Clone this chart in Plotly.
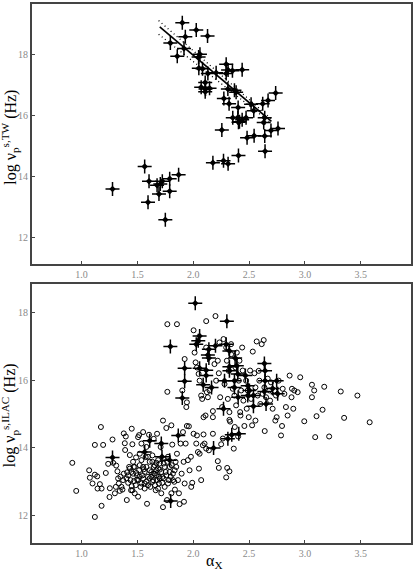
import plotly.graph_objects as go
from plotly.subplots import make_subplots

# ---------------- Top panel: crosses (alpha_x, log nu_p^{s,TW}) ----------------
top_ax = [1.277, 1.565, 1.604, 1.595, 1.676, 1.693, 1.705, 1.723, 1.789, 1.789, 1.869, 1.750,
          2.176, 2.271, 2.312, 2.405, 2.643, 1.902, 2.027, 1.929, 2.128, 1.795, 1.917, 1.857,
          2.060, 2.048, 2.050, 2.131, 2.205, 2.295, 2.312, 2.295, 2.351, 2.438, 2.107, 2.110,
          2.071, 2.146, 2.107, 2.310, 2.369, 2.384, 2.274, 2.321, 2.518, 2.542, 2.622, 2.670,
          2.738, 2.402, 2.399, 2.354, 2.473, 2.438, 2.414, 2.640, 2.631, 2.256, 2.405, 2.545,
          2.482, 2.640, 2.696, 2.759, 2.083]
top_nu = [13.59, 14.32, 13.84, 13.15, 13.71, 13.42, 13.75, 13.84, 13.92, 13.51, 14.05, 12.58,
          14.45, 14.51, 14.41, 14.68, 14.82, 19.03, 18.79, 18.57, 18.59, 18.36, 18.18, 17.93,
          18.00, 17.91, 17.54, 17.37, 17.39, 17.67, 17.48, 17.37, 17.46, 17.49, 17.07, 16.86,
          16.92, 16.88, 16.77, 16.86, 16.82, 16.75, 16.55, 16.38, 16.36, 16.15, 16.38, 16.48,
          16.73, 16.25, 15.93, 15.92, 15.92, 15.85, 15.79, 15.92, 15.76, 15.52, 15.77, 15.33,
          15.26, 15.32, 15.50, 15.57, 17.52]

# fit line and its dotted bounds
fit_x = [1.70, 2.70]
fit_y = [18.89, 15.80]
band_x = [1.69, 2.70]
band_hi = [19.10, 15.88]
band_lo = [18.65, 15.74]

# ---------------- Bottom panel: circles (all sources) ----------------
all_ax = [0.917, 0.952, 1.068, 1.074, 1.098, 1.119, 1.119, 1.119, 1.140, 1.143, 1.164, 1.173,
          1.179, 1.193, 1.179, 1.217, 1.238, 1.250, 1.253, 1.277, 1.283, 1.298, 1.307, 1.310,
          1.321, 1.333, 1.342, 1.366, 1.378, 1.387, 1.390, 1.396, 1.402, 1.405, 1.408, 1.417,
          1.432, 1.432, 1.443, 1.449, 1.455, 1.461, 1.476, 1.470, 1.449, 1.488, 1.491, 1.497,
          1.506, 1.506, 1.515, 1.521, 1.527, 1.536, 1.545, 1.551, 1.557, 1.565, 1.574, 1.580,
          1.586, 1.595, 1.604, 1.610, 1.616, 1.625, 1.634, 1.640, 1.646, 1.655, 1.664, 1.670,
          1.676, 1.685, 1.693, 1.699, 1.708, 1.714, 1.723, 1.729, 1.729, 1.735, 1.744, 1.753,
          1.759, 1.765, 1.774, 1.783, 1.789, 1.804, 1.804, 1.812, 1.818, 1.830, 1.836, 1.848,
          1.854, 1.863, 1.872, 1.878, 1.887, 1.896, 1.908, 1.914, 1.917, 1.923, 1.932, 1.943,
          1.952, 1.961, 1.967, 1.979, 1.982, 1.991, 2.003, 2.027, 2.033, 2.042, 2.051, 2.057,
          2.071, 2.086, 2.092, 2.101, 2.140, 2.176, 2.220, 2.229, 2.250, 2.265, 2.295, 2.304,
          2.324, 2.363, 2.372, 2.402, 2.423, 2.458, 2.527, 2.640, 2.324, 2.330, 2.176, 2.116,
          1.768, 1.854, 1.923, 1.938, 1.943, 1.902, 1.768, 2.003, 2.012, 2.021, 2.033, 2.048,
          2.057, 2.071, 2.080, 2.092, 2.110, 2.116, 2.116, 2.122, 2.131, 2.146, 2.176, 2.190,
          2.199, 2.205, 2.220, 2.229, 2.235, 2.241, 2.259, 2.271, 2.280, 2.295, 2.301, 2.310,
          2.318, 2.324, 2.339, 2.354, 2.369, 2.378, 2.384, 2.390, 2.408, 2.414, 2.420, 2.429,
          2.438, 2.443, 2.449, 2.473, 2.479, 2.488, 2.497, 2.509, 2.518, 2.533, 2.548, 2.557,
          2.568, 2.577, 2.586, 2.592, 2.601, 2.613, 2.622, 2.631, 2.637, 2.652, 2.667, 2.682,
          2.688, 2.696, 2.711, 2.726, 2.735, 2.741, 2.747, 2.765, 2.786, 2.795, 2.801, 2.816,
          2.830, 2.845, 2.863, 2.880, 2.884, 2.896, 2.905, 2.935, 2.958, 2.994, 3.063, 3.063,
          3.083, 3.092, 3.104, 3.158, 3.173, 3.217, 3.321, 3.351, 3.470, 3.580, 2.339, 2.557,
          1.521, 1.536, 1.551, 1.565, 1.580, 1.595, 1.610, 1.625, 1.634, 1.646, 1.655, 1.670,
          1.676, 1.685, 1.693, 1.699, 1.714, 1.723, 1.729, 1.735, 1.744, 1.759, 1.768, 1.774,
          1.789, 1.798, 1.807, 1.818, 1.833, 1.842, 1.461, 1.476, 1.485, 1.497, 1.506, 1.515,
          1.521, 1.536, 1.551, 1.565, 1.580, 1.595, 1.610, 1.634, 1.646, 1.658, 1.670, 1.685,
          1.699, 1.417, 1.426, 1.438, 1.446, 1.455, 1.467, 1.372, 1.378, 1.348, 1.357, 1.327]
all_nu = [13.56, 12.73, 13.34, 13.12, 12.95, 14.09, 13.21, 11.96, 13.16, 12.80, 12.93, 14.62,
          12.29, 14.09, 12.80, 13.26, 13.53, 12.55, 12.81, 14.25, 13.56, 12.66, 12.85, 13.48,
          13.31, 12.95, 12.73, 12.77, 14.43, 14.14, 13.94, 14.34, 13.10, 12.46, 13.28, 12.97,
          13.79, 13.39, 12.75, 12.87, 14.11, 13.59, 12.66, 13.02, 14.57, 13.72, 13.26, 13.07,
          14.32, 12.56, 14.38, 13.49, 12.85, 14.13, 13.19, 14.47, 13.37, 12.95, 13.73, 14.03,
          12.35, 13.15, 14.39, 13.59, 12.85, 13.29, 13.78, 13.05, 14.27, 13.49, 12.75, 13.19,
          14.42, 13.64, 12.95, 13.36, 14.03, 12.66, 13.14, 14.81, 12.25, 13.54, 12.85, 13.29,
          14.59, 12.46, 13.74, 13.05, 13.44, 14.67, 12.66, 14.10, 13.24, 13.00, 12.77, 13.44,
          13.83, 13.05, 12.66, 12.34, 14.13, 13.24, 14.47, 13.59, 12.41, 12.95, 14.13, 14.65,
          13.64, 14.64, 13.34, 13.74, 12.85, 12.97, 14.42, 14.13, 14.37, 13.88, 13.39, 13.83,
          13.05, 14.08, 14.40, 14.13, 13.93, 14.42, 13.61, 13.41, 14.11, 14.28, 13.13, 13.41,
          13.31, 13.98, 14.62, 14.34, 14.96, 14.65, 14.67, 14.50, 14.83, 14.78, 14.91, 13.98,
          17.66, 17.66, 16.63, 15.21, 15.35, 15.70, 15.66, 17.48, 16.82, 16.53, 16.38, 16.19,
          15.99, 15.55, 15.45, 14.91, 14.96, 17.75, 16.97, 15.65, 15.50, 15.70, 15.09, 16.48,
          17.90, 15.99, 16.58, 16.21, 17.12, 15.50, 15.21, 17.22, 15.89, 16.97, 16.58, 15.45,
          16.28, 15.06, 16.77, 15.75, 15.55, 16.38, 15.26, 16.82, 15.99, 16.58, 15.06, 15.70,
          16.97, 16.29, 15.40, 15.99, 15.16, 15.70, 14.91, 16.29, 15.45, 16.85, 16.21, 15.79,
          17.15, 15.55, 16.28, 15.99, 15.30, 17.07, 15.60, 17.19, 15.79, 15.50, 16.05, 15.70,
          15.40, 15.94, 15.16, 15.70, 14.81, 15.55, 14.91, 15.99, 14.37, 14.65, 15.75, 15.60,
          15.21, 14.96, 16.14, 15.50, 15.75, 15.16, 15.70, 15.65, 16.09, 14.79, 15.87, 15.50,
          15.70, 14.32, 14.94, 15.13, 15.81, 14.34, 15.67, 14.89, 15.55, 14.76, 17.07, 14.81,
          13.83, 13.64, 13.44, 13.29, 13.44, 13.74, 13.34, 13.15, 13.59, 13.44, 13.24, 13.56,
          13.05, 13.39, 13.15, 13.54, 13.29, 12.97, 13.69, 13.10, 13.44, 13.19, 13.59, 12.95,
          13.29, 13.15, 13.49, 13.05, 13.34, 13.59, 13.24, 13.44, 12.90, 13.19, 13.05, 13.34,
          13.15, 12.95, 13.10, 12.80, 13.00, 12.90, 13.10, 13.00, 13.24, 12.90, 13.34, 12.80,
          13.10, 13.19, 13.44, 13.05, 13.29, 12.75, 13.44, 13.05, 13.24, 13.15, 12.85, 13.10]

# ---------------- Bottom panel: crosses (ILAC subsample) ----------------
bot_ax = [2.018, 2.301, 1.795, 2.057, 2.045, 2.027, 2.140, 2.131, 2.140, 2.199, 2.295, 2.324,
          2.375, 2.390, 2.324, 2.324, 2.057, 2.116, 2.116, 2.089, 2.164, 1.923, 1.923, 1.902,
          2.280, 2.271, 2.369, 2.369, 2.399, 2.402, 2.488, 2.488, 2.503, 2.467, 2.539, 2.539,
          2.637, 2.643, 2.643, 2.637, 2.652, 2.711, 2.747, 2.756, 2.310, 2.345, 2.408, 2.182,
          1.866, 1.714, 1.610, 1.565, 1.720, 1.789, 1.277, 1.798]
bot_nu = [18.28, 17.75, 17.00, 17.31, 17.17, 17.07, 16.92, 16.75, 16.66, 17.02, 17.07, 16.87,
          16.66, 16.43, 16.40, 16.28, 16.36, 16.30, 16.14, 15.87, 15.79, 16.36, 15.97, 15.48,
          15.99, 15.16, 15.99, 15.79, 16.19, 15.50, 15.84, 15.55, 15.70, 16.14, 15.23, 15.55,
          16.50, 16.28, 15.99, 15.67, 15.30, 15.76, 15.99, 15.60, 14.27, 14.39, 14.42, 14.00,
          14.37, 14.13, 14.21, 13.88, 13.74, 13.64, 13.72, 12.43]

x_ticks = [1.0, 1.5, 2.0, 2.5, 3.0, 3.5]
y_ticks = [12, 14, 16, 18]

SERIF = "Liberation Serif, DejaVu Serif, serif"
FRAME = "#444444"

fig = make_subplots(rows=2, cols=1, vertical_spacing=0.0)


def add_crosses(x, y, row):
    fig.add_trace(go.Scatter(x=x, y=y, mode="markers", showlegend=False, hoverinfo="skip",
                             marker=dict(symbol="cross-thin", size=10, color="black",
                                         line=dict(color="black", width=1.5))), row=row, col=1)
    fig.add_trace(go.Scatter(x=x, y=y, mode="markers", showlegend=False, hoverinfo="skip",
                             marker=dict(symbol="diamond", size=5, color="black",
                                         line=dict(width=0))), row=row, col=1)


# top panel
fig.add_trace(go.Scatter(x=band_x, y=band_hi, mode="lines", showlegend=False,
                         line=dict(color="black", width=1.3, dash="1px,3px")), row=1, col=1)
fig.add_trace(go.Scatter(x=band_x, y=band_lo, mode="lines", showlegend=False,
                         line=dict(color="black", width=1.3, dash="1px,3px")), row=1, col=1)
fig.add_trace(go.Scatter(x=fit_x, y=fit_y, mode="lines", showlegend=False,
                         line=dict(color="black", width=1.6)), row=1, col=1)
add_crosses(top_ax, top_nu, 1)

# bottom panel
fig.add_trace(go.Scatter(x=all_ax, y=all_nu, mode="markers", showlegend=False, hoverinfo="skip",
                         marker=dict(symbol="circle-open", size=5, color="black",
                                     line=dict(color="black", width=1))), row=2, col=1)
add_crosses(bot_ax, bot_nu, 2)

axis_common = dict(showgrid=False, zeroline=False, showline=True, mirror=True,
                   linecolor=FRAME, linewidth=2, ticks="inside", ticklen=3,
                   tickcolor=FRAME, tickwidth=1,
                   tickfont=dict(family=SERIF, size=10, color="#8a8a8a"))

fig.update_xaxes(range=[0.556, 3.95], tickvals=x_ticks,
                 ticktext=[f"{v:.1f}" for v in x_ticks], **axis_common)
fig.update_yaxes(tickvals=y_ticks, ticktext=[str(v) for v in y_ticks], **axis_common)
fig.update_yaxes(range=[11.14, 19.64], row=1, col=1)
fig.update_yaxes(range=[11.19, 18.84], row=2, col=1)

fig.update_layout(
    width=415, height=570,
    margin=dict(l=32, r=3, t=2, b=27),
    paper_bgcolor="white", plot_bgcolor="white",
    xaxis=dict(domain=[0, 1]), xaxis2=dict(domain=[0, 1]),
    yaxis=dict(domain=[0.518, 1.0]), yaxis2=dict(domain=[0.0, 0.48]),
    annotations=[
        dict(text="log ν<sub>p</sub><sup>s,TW</sup> (Hz)", xref="paper", yref="paper",
             x=-0.058, y=0.752, textangle=-90, showarrow=False, xanchor="center", yanchor="middle",
             font=dict(family=SERIF, size=16, color="black")),
        dict(text="log ν<sub>p</sub><sup>s,ILAC</sup> (Hz)", xref="paper", yref="paper",
             x=-0.058, y=0.237, textangle=-90, showarrow=False, xanchor="center", yanchor="middle",
             font=dict(family=SERIF, size=16, color="black")),
        dict(text="α<sub>X</sub>", xref="paper", yref="paper", x=0.479, y=-0.034,
             showarrow=False, xanchor="center", yanchor="middle",
             font=dict(family=SERIF, size=16, color="black")),
    ],
)

fig.write_html("out.html", config={"displayModeBar": False},
               post_script="document.body.style.margin='0';")
